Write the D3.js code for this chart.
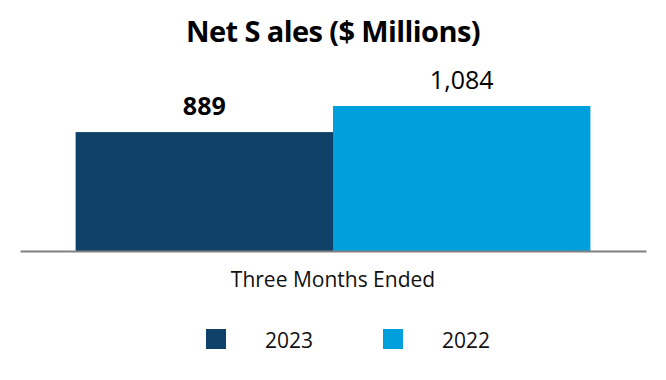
<!DOCTYPE html>
<html>
<head>
<meta charset="utf-8">
<script src="https://cdn.jsdelivr.net/npm/d3@7"></script>
<style>
  body { margin: 0; background: #fff; }
  text { font-family: "Open Sans", sans-serif; }
</style>
</head>
<body>
<div id="chart"></div>
<script>
var categories = ["Three Months Ended"];
var seriesNames = ["2023", "2022"];
var values2023 = [889];
var values2022 = [1084];
var valueLabels = [["889"], ["1,084"]];
var colors = ["#0f4169", "#00a0dc"];

var svgWidth = 666;
var svgHeight = 380;
var margin = { top: 20, right: 20, bottom: 129, left: 20 };
var height = svgHeight - margin.bottom; // baseline y

var svg = d3.select("#chart")
  .append("svg")
  .attr("width", svgWidth)
  .attr("height", svgHeight);

// scales
var x0 = d3.scaleBand()
  .domain(categories)
  .range([margin.left, svgWidth - margin.right])
  .paddingInner(0)
  .paddingOuter(0.108);
var x1 = d3.scaleBand()
  .domain(seriesNames)
  .range([0, x0.bandwidth()])
  .padding(0);
var y = d3.scaleLinear()
  .domain([0, 1084])
  .range([height, 106]);

var series = [values2023, values2022];

// title
svg.append("text")
  .attr("x", 333)
  .attr("y", 42)
  .attr("text-anchor", "middle")
  .style("font-size", "29px")
  .style("font-weight", "bold")
  .style("letter-spacing", "-0.6px")
  .text("Net S ales ($ Millions)");

// bars
var groups = svg.selectAll("g.cat")
  .data(categories)
  .enter()
  .append("g")
  .attr("class", "cat")
  .attr("transform", d => `translate(${x0(d)},0)`);

seriesNames.forEach(function(name, si) {
  groups.append("rect")
    .attr("x", x1(name))
    .attr("y", (d, i) => y(series[si][i]))
    .attr("width", x1.bandwidth())
    .attr("height", (d, i) => y(0) - y(series[si][i]))
    .attr("fill", colors[si]);

  groups.append("text")
    .attr("x", x1(name) + x1.bandwidth() / 2)
    .attr("y", (d, i) => y(series[si][i]) - 17)
    .attr("text-anchor", "middle")
    .style("font-size", "25px")
    .style("font-weight", si === 0 ? "bold" : "normal")
    .text((d, i) => valueLabels[si][i]);
});

// x axis
var xAxis = svg.append("g")
  .attr("transform", `translate(0, ${height})`)
  .call(d3.axisBottom(x0).tickSize(0).tickPadding(21));
xAxis.select(".domain")
  .attr("stroke", "#808080")
  .attr("stroke-width", 2);
xAxis.selectAll("text")
  .style("font-family", "Open Sans, sans-serif")
  .style("font-size", "21px")
  .attr("fill", "#111");

// legend
var legendX = [206, 383];
var legend = svg.selectAll("g.legend")
  .data(seriesNames)
  .enter()
  .append("g")
  .attr("class", "legend")
  .attr("transform", (d, i) => `translate(${legendX[i]}, 329)`);
legend.append("rect")
  .attr("width", 20)
  .attr("height", 20)
  .attr("fill", (d, i) => colors[i]);
legend.append("text")
  .attr("x", 59)
  .attr("y", 19)
  .style("font-size", "21px")
  .attr("fill", "#111")
  .text(d => d);
</script>
</body>
</html>
